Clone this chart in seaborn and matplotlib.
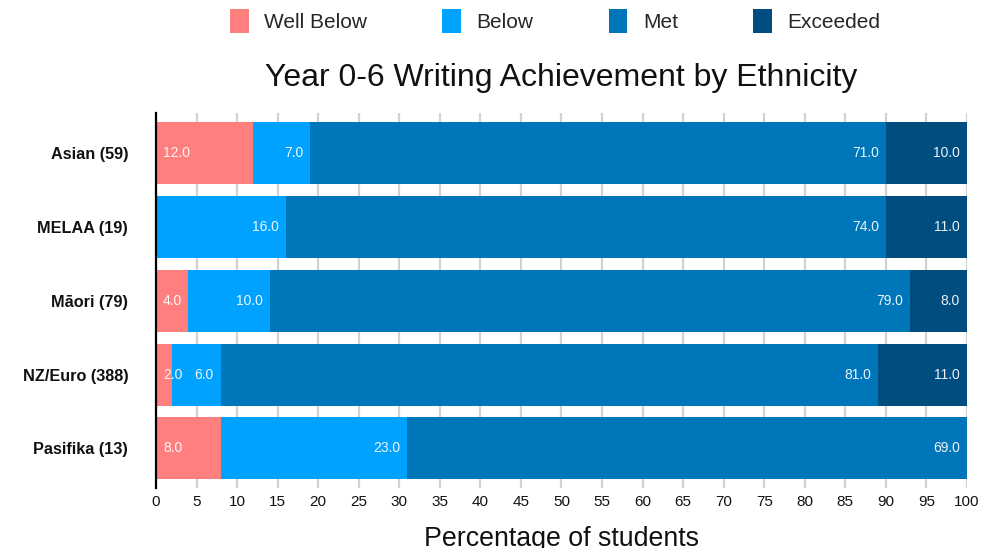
import matplotlib
matplotlib.use("Agg")
import matplotlib.pyplot as plt
from matplotlib.patches import Patch
import numpy as np
import pandas as pd
import seaborn as sns

# Writing achievement shares (% of students) per ethnic group
groups = ["Asian (59)", "MELAA (19)", "Māori (79)", "NZ/Euro (388)", "Pasifika (13)"]
well_below = [12.0, 0.0, 4.0, 2.0, 8.0]
below = [7.0, 16.0, 10.0, 6.0, 23.0]
met = [71.0, 74.0, 79.0, 81.0, 69.0]
exceeded = [10.0, 11.0, 8.0, 11.0, 0.0]

levels = ["Well Below", "Below", "Met", "Exceeded"]
colors = ["#FF7F7F", "#00A2FF", "#0076BA", "#004D80"]
x_ticks = list(range(0, 101, 5))

sns.set_theme(style="white")
plt.rcParams["font.family"] = ["Liberation Sans", "DejaVu Sans"]

fig = plt.figure(figsize=(9.81, 5.48), dpi=100)
ax = fig.add_axes([0.1590, 0.1095, 0.8267, 0.6843])

values = np.array([well_below, below, met, exceeded])
cum = np.cumsum(values, axis=0)

# Stacked bars: draw cumulative totals from the widest layer down
for i in range(len(levels) - 1, -1, -1):
    df = pd.DataFrame({"group": groups, "end": cum[i]})
    sns.barplot(data=df, x="end", y="group", orient="h", color=colors[i],
                saturation=1, width=0.84, linewidth=0, ax=ax, zorder=2)

# Segment value labels (anchored to the visible end of each segment)
for i in range(len(levels)):
    for j, g in enumerate(groups):
        v = values[i, j]
        if v <= 0:
            continue
        if i == 0:
            ax.annotate(f"{v:.1f}", xy=(0, j), xytext=(5, 0), textcoords="offset points",
                        ha="left", va="center", fontsize=10, color="white", alpha=0.92,
                        zorder=4, annotation_clip=False)
        else:
            end = min(cum[i, j], 100.0)
            ax.annotate(f"{v:.1f}", xy=(end, j), xytext=(-5, 0), textcoords="offset points",
                        ha="right", va="center", fontsize=10, color="white", alpha=0.92,
                        zorder=4, annotation_clip=False)

ax.set_xlim(0, 100)
ax.set_ylim(4.535, -0.541)
ax.set_xticks(x_ticks)
ax.set_xticklabels([str(t) for t in x_ticks], fontsize=11, color="#111111")
ax.tick_params(axis="x", length=0, pad=5)
ax.tick_params(axis="y", length=0, pad=20)
for lbl in ax.get_yticklabels():
    lbl.set_fontweight("bold")
    lbl.set_fontsize(11.7)
    lbl.set_color("#111111")

ax.xaxis.grid(True, color="#D2D2D2", linewidth=1.6, zorder=0)
ax.set_axisbelow(True)
for side in ["top", "right", "bottom"]:
    ax.spines[side].set_visible(False)
ax.spines["left"].set_color("black")
ax.spines["left"].set_linewidth(1.6)
ax.spines["left"].set_zorder(5)

ax.set_ylabel("")
ax.set_xlabel("Percentage of students", fontsize=19.3, color="#111111", labelpad=12)

fig.text(0.572, 0.858, "Year 0-6 Writing Achievement by Ethnicity", ha="center", va="center",
         fontsize=23, color="#111111")

handles = [Patch(facecolor=c, edgecolor="none", label=l) for c, l in zip(colors, levels)]
fig.legend(handles=handles, loc="center", bbox_to_anchor=(0.566, 0.962), ncol=4, frameon=False,
           fontsize=15, handlelength=0.9, handleheight=1.35, handletextpad=0.75,
           columnspacing=3.6)

fig.savefig("out.png", dpi=100)
